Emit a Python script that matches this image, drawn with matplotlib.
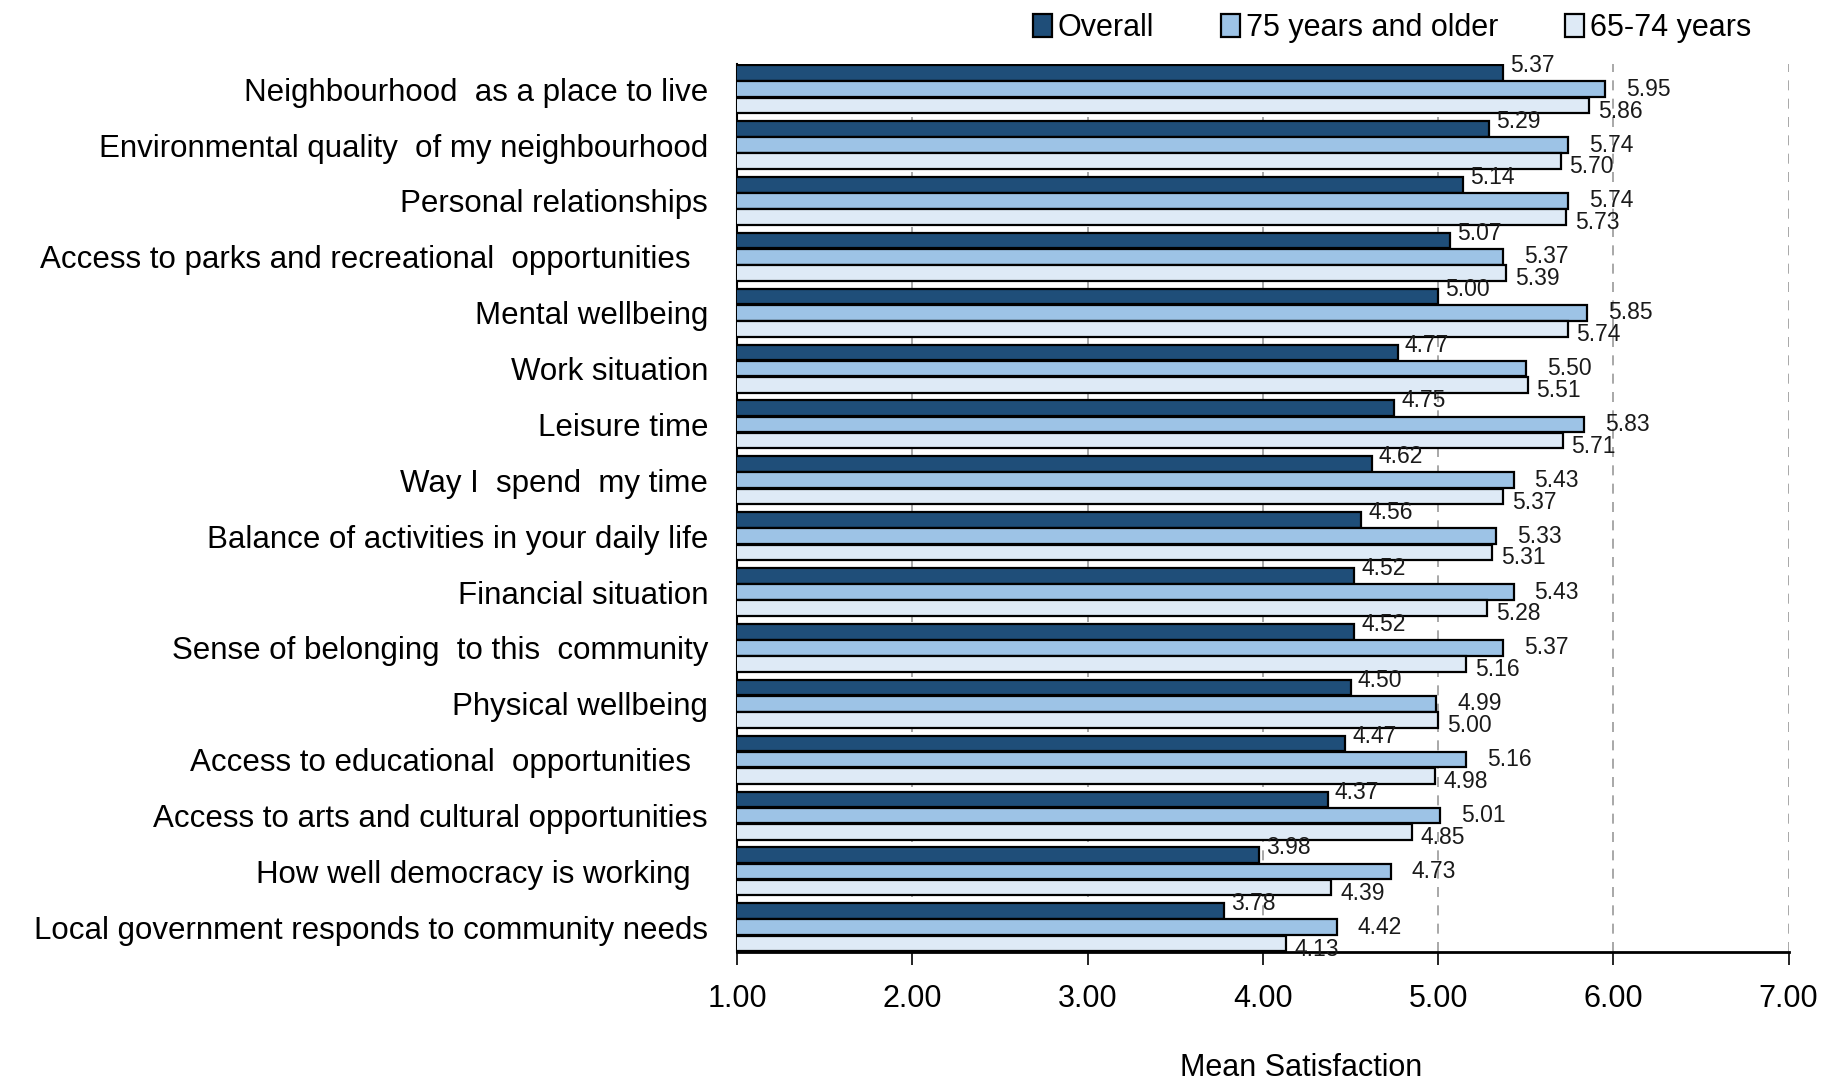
import matplotlib
matplotlib.use("Agg")
import matplotlib.pyplot as plt
import numpy as np

plt.rcParams['font.family'] = ['Liberation Sans', 'DejaVu Sans']

categories = [
    "Neighbourhood  as a place to live",
    "Environmental quality  of my neighbourhood",
    "Personal relationships",
    "Access to parks and recreational  opportunities  ",
    "Mental wellbeing",
    "Work situation",
    "Leisure time",
    "Way I  spend  my time",
    "Balance of activities in your daily life",
    "Financial situation",
    "Sense of belonging  to this  community",
    "Physical wellbeing",
    "Access to educational  opportunities  ",
    "Access to arts and cultural opportunities",
    "How well democracy is working  ",
    "Local government responds to community needs",
]
overall = [5.37, 5.29, 5.14, 5.07, 5.00, 4.77, 4.75, 4.62, 4.56, 4.52, 4.52, 4.50, 4.47, 4.37, 3.98, 3.78]
older75 = [5.95, 5.74, 5.74, 5.37, 5.85, 5.50, 5.83, 5.43, 5.33, 5.43, 5.37, 4.99, 5.16, 5.01, 4.73, 4.42]
age6574 = [5.86, 5.70, 5.73, 5.39, 5.74, 5.51, 5.71, 5.37, 5.31, 5.28, 5.16, 5.00, 4.98, 4.85, 4.39, 4.13]
series_names = ["Overall", "75 years and older", "65-74 years"]
xticks = [1, 2, 3, 4, 5, 6, 7]

colors = ["#1F4E79", "#9DC3E6", "#DEEAF6"]

fig = plt.figure(figsize=(18.27, 10.86), dpi=100)
ax = fig.add_axes([0.4035, 0.123, 0.5755, 0.818])

y = np.arange(len(categories))
step = 0.29
h = 0.28
series = [overall, older75, age6574]
offsets = [-step, 0, step]
lab_dx = [0.04, 0.12, 0.05]
lab_dy = [-0.13, 0.0, 0.10]
for vals, off, c, name, dx, dy in zip(series, offsets, colors, series_names, lab_dx, lab_dy):
    ax.barh(y + off, vals, height=h, color=c, edgecolor="black", linewidth=1.6,
            label=name, zorder=3)
    for yi, v in zip(y, vals):
        ax.text(v + dx, yi + off + dy, f"{v:.2f}", va="center", ha="left",
                fontsize=16.5, color="#1a1a1a", zorder=4)

ax.set_xlim(1, 7)
ax.set_ylim(15.45, -0.45)
ax.set_xticks(xticks)
ax.set_xticklabels([f"{t:.2f}" for t in xticks], fontsize=22)
ax.set_yticks(y)
ax.set_yticklabels(categories, fontsize=22.5)
ax.tick_params(axis="y", length=0, pad=21)
ax.tick_params(axis="x", length=9, width=1.2, pad=14, direction="out")
ax.grid(axis="x", linestyle=(0, (6, 5)), color="#9a9a9a", linewidth=1.2, zorder=0)
for s in ["top", "right"]:
    ax.spines[s].set_visible(False)
ax.spines["bottom"].set_linewidth(2)
ax.spines["left"].set_linewidth(1.5)
ax.set_xlabel("Mean Satisfaction", fontsize=22)
ax.xaxis.set_label_coords(0.536, -0.113)

fig.legend(loc="upper center", bbox_to_anchor=(0.762, 1.013), ncol=3, frameon=False,
           fontsize=22, handlelength=0.6, handleheight=0.8, handletextpad=0.2,
           columnspacing=2.2)

fig.savefig("out.png", dpi=100)
